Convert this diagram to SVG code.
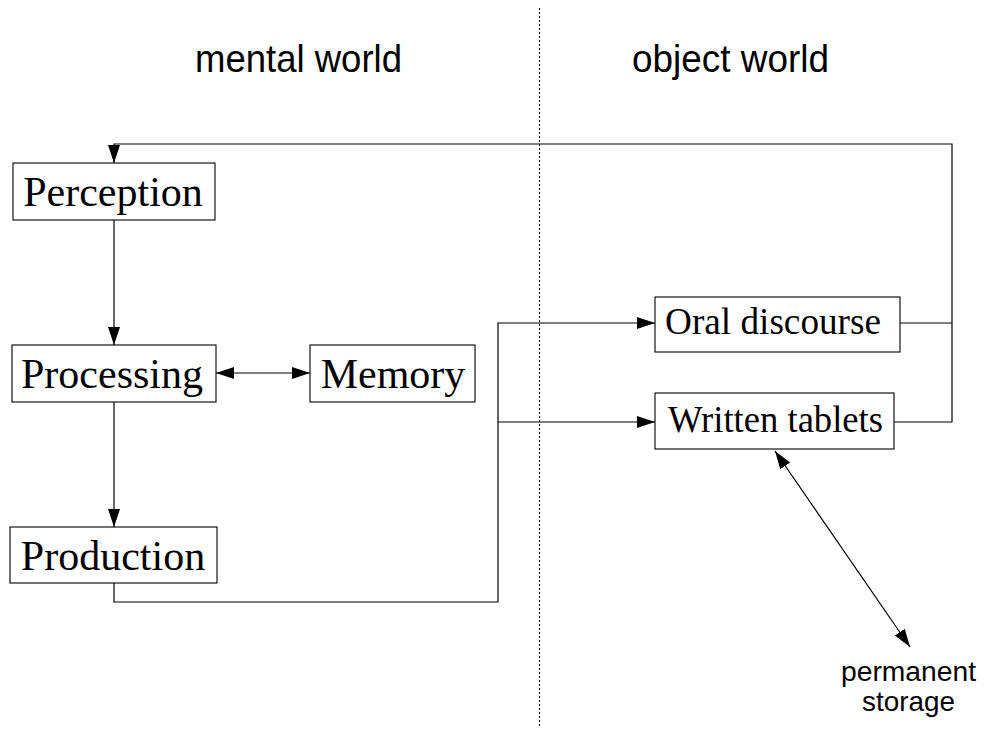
<svg xmlns="http://www.w3.org/2000/svg" width="984" height="731" viewBox="0 0 984 731">
  <style>
    .box { fill: #fff; stroke: #000; stroke-width: 1.1; }
    .lbl { font-family: "Liberation Serif", "Times New Roman", serif; font-size: 42px; fill: #000; text-anchor: middle; }
    .lbl-s { font-family: "Liberation Serif", "Times New Roman", serif; font-size: 38px; fill: #000; }
    .head { font-family: "Liberation Sans", Arial, sans-serif; font-size: 39px; fill: #000; }
    .note { font-family: "Liberation Sans", Arial, sans-serif; font-size: 28px; fill: #000; }
    .wire { fill: none; stroke: #000; stroke-width: 1.2; }
    .divider { stroke: #000; stroke-width: 1; stroke-dasharray: 2 2; fill: none; }
  </style>
  <defs>
    <marker id="arrow" markerUnits="userSpaceOnUse" markerWidth="19" markerHeight="13" refX="18" refY="6" orient="auto-start-reverse">
      <path d="M0,0 L18,6 L0,12 z" fill="#000"/>
    </marker>
  </defs>

  <rect width="984" height="731" fill="#fff"/>

  <!-- divider between the two worlds -->
  <line class="divider" x1="539.5" y1="8" x2="539.5" y2="728"/>

  <!-- column headings -->
  <text class="head" x="195" y="72" textLength="207" lengthAdjust="spacingAndGlyphs">mental world</text>
  <text class="head" x="632" y="72" textLength="197" lengthAdjust="spacingAndGlyphs">object world</text>

  <!-- connectors -->
  <g id="connectors">
    <path class="wire" d="M114,220 V345" marker-end="url(#arrow)"/>
    <path class="wire" d="M114,402 V527" marker-end="url(#arrow)"/>
    <path class="wire" d="M216,373 H310" marker-start="url(#arrow)" marker-end="url(#arrow)"/>
    <path class="wire" d="M114,583 V602 H498 V323 H655" marker-end="url(#arrow)"/>
    <path class="wire" d="M498,422 H655" marker-end="url(#arrow)"/>
    <path class="wire" d="M900,323 H952"/>
    <path class="wire" d="M894,422 H952 V144 H114 V163" marker-end="url(#arrow)"/>
    <path class="wire" d="M775,451 L910,647" stroke-width="1" marker-start="url(#arrow)" marker-end="url(#arrow)"/>
  </g>

  <!-- mental world nodes -->
  <g id="perception">
    <rect class="box" x="13" y="163" width="202" height="57"/>
    <text class="lbl" x="113" y="205.5">Perception</text>
  </g>
  <g id="processing">
    <rect class="box" x="12" y="345" width="204" height="57"/>
    <text class="lbl" x="112" y="388">Processing</text>
  </g>
  <g id="memory">
    <rect class="box" x="310" y="345" width="165" height="57"/>
    <text class="lbl" x="393" y="388">Memory</text>
  </g>
  <g id="production">
    <rect class="box" x="10" y="527" width="207" height="56"/>
    <text class="lbl" x="113" y="570">Production</text>
  </g>

  <!-- object world nodes -->
  <g id="oral-discourse">
    <rect class="box" x="655" y="297" width="245" height="55"/>
    <text class="lbl-s" x="665" y="334" textLength="216" lengthAdjust="spacingAndGlyphs">Oral discourse</text>
  </g>
  <g id="written-tablets">
    <rect class="box" x="655" y="393" width="239" height="56"/>
    <text class="lbl-s" x="668" y="431.5" textLength="215" lengthAdjust="spacingAndGlyphs">Written tablets</text>
  </g>

  <g id="permanent-storage">
    <text class="note" x="841" y="681" textLength="135" lengthAdjust="spacingAndGlyphs">permanent</text>
    <text class="note" x="862" y="711" textLength="93" lengthAdjust="spacingAndGlyphs">storage</text>
  </g>
</svg>
